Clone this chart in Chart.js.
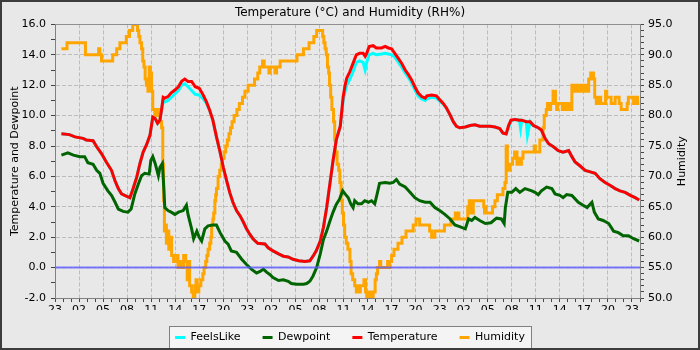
<!DOCTYPE html>
<html>
<head>
<meta charset="utf-8">
<script src="https://cdn.jsdelivr.net/npm/chart.js@4.4.1/dist/chart.umd.min.js"></script>
<style>
  html, body { margin: 0; padding: 0; background: #e8e8e8; }
</style>
</head>
<body>
<canvas id="grafico" width="700" height="350"></canvas>
<script>
// Eje X en horas desde las 23:00 del primer día
const etiquetasX = ["23","02","05","08","11","14","17","20","23","02","05","08","11","14","17","20","23","02","05","08","11","14","17","20","23"];

// Temperatura y sensación térmica (mismas horas)
const horasTemp = [0.8,1.8,2.5,3.5,3.9,4.75,5.2,5.8,6.4,7.05,7.5,7.9,8.3,8.9,9.35,9.75,10.2,10.6,11.0,11.4,11.85,12.2,12.5,12.8,13.1,13.3,
  13.5,13.7,14.1,14.5,15.0,15.4,15.8,16.2,16.6,17.05,17.5,18.0,18.5,18.9,19.3,
  19.7,20.15,20.6,21.0,21.4,21.8,22.2,22.65,23.1,23.5,23.9,24.3,24.7,25.3,26.2,26.6,27.2,27.9,28.5,29.1,29.7,30.4,31.2,31.8,32.2,32.6,33.1,33.5,33.9,34.3,34.7,35.1,35.6,
  35.96,36.2,36.4,36.8,37.2,37.6,38.0,38.45,38.7,38.9,39.2,39.7,40.1,40.75,41.2,41.6,42.0,42.4,42.8,43.25,43.7,44.1,44.5,44.9,45.3,45.75,46.2,46.4,47.0,47.6,48.0,48.45,
  48.85,49.3,49.7,50.1,50.5,51.2,51.8,52.4,53.0,54.3,54.9,55.5,55.9,56.3,
  56.6,56.9,57.4,57.95,58.1,58.25,58.8,58.95,59.3,
  59.7,60.3,60.7,61.15,61.6,62.2,62.8,63.4,64.1,64.5,64.9,65.5,66.15,66.8,67.4,68.0,68.65,69.3,69.9,70.5,71.15,71.8,72.4,72.9];

const temperatura = [8.8,8.75,8.6,8.5,8.4,8.35,7.95,7.5,6.95,6.4,5.7,5.2,4.85,4.7,4.6,5.2,5.95,6.85,7.6,8.05,8.7,9.9,9.8,9.5,9.7,10.4,
  11.2,11.15,11.25,11.5,11.7,11.9,12.25,12.4,12.25,12.25,11.9,11.8,11.35,10.9,10.35,
  9.7,8.6,7.6,6.6,5.75,4.95,4.3,3.75,3.4,3.0,2.55,2.2,1.9,1.6,1.55,1.3,1.1,0.9,0.75,0.7,0.55,0.45,0.4,0.45,0.75,1.1,1.75,2.65,3.95,5.5,7.05,8.4,9.3,
  11.25,12.0,12.45,12.9,13.45,14.0,14.1,14.1,13.9,14.1,14.55,14.6,14.45,14.45,14.55,14.45,14.4,14.1,13.8,13.45,13.0,12.7,12.35,11.9,11.5,11.25,11.15,11.3,11.35,11.3,11.05,10.8,
  10.5,10.05,9.6,9.3,9.2,9.25,9.35,9.4,9.3,9.3,9.25,9.15,8.85,8.8,
  9.35,9.7,9.75,9.7,9.7,9.7,9.6,9.6,9.6,
  9.35,9.2,9.05,8.5,8.15,7.95,7.7,7.6,7.7,7.3,6.95,6.7,6.4,6.3,6.2,5.85,5.6,5.4,5.2,5.05,4.95,4.75,4.6,4.45];

const sensacion = [8.8,8.75,8.6,8.5,8.4,8.35,7.95,7.5,6.95,6.4,5.7,5.2,4.85,4.7,4.6,5.2,5.95,6.85,7.6,8.05,8.7,9.9,9.8,9.5,9.7,10.4,
  11.0,10.9,11.0,11.2,11.45,11.65,12.0,12.1,11.9,11.65,11.4,11.35,11.1,10.8,10.35,
  9.7,8.6,7.6,6.6,5.75,4.95,4.3,3.75,3.4,3.0,2.55,2.2,1.9,1.6,1.55,1.3,1.1,0.9,0.75,0.7,0.55,0.45,0.4,0.45,0.75,1.1,1.75,2.65,3.95,5.5,7.05,8.4,9.3,
  11.0,11.6,12.0,12.4,12.9,13.5,13.6,13.5,13.0,13.5,14.0,14.1,14.0,14.05,14.1,14.05,14.0,13.85,13.55,13.2,12.8,12.5,12.15,11.7,11.3,11.1,11.0,11.1,11.2,11.15,10.95,10.75,
  10.5,10.05,9.6,9.3,9.2,9.25,9.35,9.4,9.3,9.3,9.25,9.15,8.85,8.8,
  9.2,9.65,9.75,9.7,9.15,9.7,9.6,8.7,9.6,
  9.35,9.2,9.05,8.5,8.15,7.95,7.7,7.6,7.7,7.3,6.95,6.7,6.4,6.3,6.2,5.85,5.6,5.4,5.2,5.05,4.95,4.75,4.6,4.45];

// Punto de rocío
const horasRocio = [0.8,1.6,2.3,3.1,3.7,4.1,4.75,5.2,5.6,6.0,6.6,7.05,7.5,7.9,8.5,9.1,9.5,9.96,10.4,10.8,11.2,11.75,11.96,12.2,12.5,12.9,13.1,13.4,13.6,13.7,
  14.1,14.5,14.96,15.4,16.0,16.4,16.6,17.05,17.3,17.7,18.0,18.3,18.7,19.1,19.7,20.15,20.6,21.2,21.6,22.0,22.65,23.3,23.9,24.5,25.15,25.6,26.0,26.4,26.8,27.2,
  27.9,28.5,29.1,29.5,30.15,31.0,31.4,31.8,32.2,32.65,33.1,33.5,33.9,34.3,34.7,35.1,35.5,35.9,36.2,36.6,36.9,37.2,37.4,37.8,38.25,38.65,39.1,39.5,39.9,40.2,
  40.5,41.2,41.8,42.2,42.6,43.0,43.7,44.3,44.9,45.5,46.2,46.8,47.4,48.0,48.65,49.3,49.9,50.5,51.2,51.6,52.0,52.4,53.0,53.7,54.4,55.1,55.7,56.05,56.2,56.5,
  57.0,57.5,58.0,58.65,59.5,59.9,60.3,60.7,61.35,62.0,62.4,63.0,63.4,63.85,64.5,65.3,65.9,66.4,67.0,67.3,67.8,68.4,69.1,69.7,70.3,70.9,71.55,72.2,72.9];
const rocio = [7.4,7.55,7.4,7.3,7.3,6.9,6.8,6.4,6.2,5.55,5.05,4.75,4.3,3.85,3.7,3.65,3.85,4.85,5.5,6.05,6.2,6.15,7.05,7.3,6.85,6.05,6.6,6.85,5.05,3.95,
  3.75,3.65,3.5,3.65,3.75,4.1,3.5,2.55,1.9,2.4,2.0,1.75,2.55,2.75,2.8,2.8,2.3,1.75,1.55,1.1,1.0,0.55,0.2,-0.1,-0.35,-0.25,-0.1,-0.3,-0.45,-0.65,
  -0.85,-0.8,-0.9,-1.05,-1.1,-1.1,-1.05,-0.9,-0.55,0.0,0.9,1.85,2.4,3.05,3.65,4.15,4.5,5.05,4.85,4.6,4.2,3.95,4.4,4.2,4.2,4.4,4.3,4.4,4.2,4.85,
  5.55,5.6,5.55,5.6,5.8,5.5,5.3,4.95,4.6,4.4,4.3,4.3,3.95,3.75,3.5,3.2,2.8,2.7,2.55,3.2,3.1,3.3,3.1,2.9,2.95,3.25,3.2,2.9,3.95,4.95,
  4.95,5.2,4.95,5.2,5.05,4.95,4.8,5.05,5.3,5.2,4.85,4.75,4.6,4.8,4.75,4.3,4.1,3.95,4.3,3.65,3.2,3.1,2.9,2.4,2.3,2.1,2.1,1.9,1.75];

// Humedad relativa (cada valor rige desde su hora)
const horasHum = [0.8,1.5,3.8,5.45,5.6,5.8,7.2,7.7,8.1,8.9,9.3,9.7,10.3,10.45,10.6,10.8,10.95,11.1,11.25,11.4,11.6,11.75,11.9,12.05,12.2,12.45,12.7,12.9,13.1,13.3,
  13.45,13.55,13.65,13.8,13.9,14.05,14.2,14.4,14.55,14.8,15.2,15.35,15.7,15.9,16.05,16.3,16.5,16.6,16.8,17.05,17.25,17.45,17.6,17.75,17.95,18.2,18.45,18.6,18.8,18.95,
  19.1,19.3,19.45,19.55,19.7,19.8,19.95,20.05,20.15,20.35,20.55,20.75,20.9,21.1,21.3,21.5,21.7,21.9,22.1,22.35,22.7,23.0,23.4,23.7,24.1,24.9,25.3,25.55,25.9,26.1,
  26.7,26.85,27.45,27.65,28.1,30.2,31.0,31.7,32.3,32.65,33.4,33.55,33.7,33.85,34.0,34.15,34.25,34.4,34.55,34.75,34.9,35.0,35.2,35.4,35.55,35.7,35.85,36.0,36.15,36.35,
  36.55,36.8,36.95,37.15,37.4,37.6,37.75,37.85,38.1,38.55,38.75,38.9,39.2,39.35,39.7,39.95,40.1,40.25,40.5,40.65,41.5,41.65,41.75,42.0,42.3,42.8,43.3,43.8,44.7,45.05,
  45.5,46.75,47.0,47.4,48.6,49.4,49.95,50.1,50.25,50.4,51.5,51.7,51.85,52.2,53.5,53.6,53.7,53.8,54.6,54.9,55.2,55.9,56.15,56.3,56.45,56.6,56.8,57.1,57.35,57.45,
  57.55,57.65,57.8,58.0,58.2,58.4,59.8,59.95,60.5,60.9,61.05,61.3,61.45,61.55,61.65,61.75,61.85,62.15,62.45,62.6,62.7,63.3,63.45,63.6,63.75,63.9,64.05,64.2,64.5,64.65,
  64.8,64.95,65.1,65.3,65.5,65.7,65.85,66.0,66.2,66.4,66.6,66.85,67.2,67.35,67.55,67.9,68.1,68.7,68.85,69.4,69.9,70.4,70.65,71.4,71.55,72.0,72.2,72.5,72.7,72.9];
const humedad = [91,92,90,91,90,89,90,91,92,93,94,95,94,93,92,91,89,88,86,85,84,88,87,84,81,80,81,80,79,78,
  72,66,61,62,59,61,58,60,57,56,57,55,56,55,57,56,53,56,52,51,50,52,53,51,52,53,54,55,56,57,
  58,59,60,62,63,64,66,67,68,70,71,72,73,74,75,76,77,78,79,80,81,82,83,84,85,86,87,88,89,88,
  87,88,87,88,89,90,91,92,93,94,93,92,91,90,88,87,85,83,81,79,76,74,72,71,69,66,64,62,60,59,
  58,56,54,53,52,51,52,51,52,53,51,50,51,50,51,53,54,55,56,55,56,55,56,57,58,59,60,61,62,63,
  62,61,60,61,62,63,64,63,64,63,65,66,64,66,65,64,65,64,65,66,67,68,69,75,72,71,72,73,74,73,
  74,72,73,72,73,74,75,74,76,78,80,81,82,81,82,81,82,84,82,81,82,81,82,81,82,81,82,81,85,84,
  85,84,85,84,85,84,85,84,85,84,86,87,86,83,82,83,82,84,83,82,83,82,81,82,83,83,82,83,82,82];

const fuente = { family: "DejaVu Sans", size: 11 };
const puntos = (horas, valores) => horas.map((h, i) => ({ x: h, y: valores[i] }));

// Fondo, caja de la leyenda, línea de 0 °C, título derecho y marco
const marco = {
  id: "marco",
  beforeDraw(chart) {
    const { ctx, width, height, legend } = chart;
    ctx.save();
    ctx.fillStyle = "#e8e8e8";
    ctx.fillRect(0, 0, width, height);
    const cajas = legend ? legend.legendHitBoxes : [];
    if (cajas.length) {
      const izq = Math.min(...cajas.map(b => b.left)) - 6;
      const der = Math.max(...cajas.map(b => b.left + b.width)) + 6;
      const arriba = Math.min(...cajas.map(b => b.top)) - 6;
      const abajo = Math.max(...cajas.map(b => b.top + b.height)) + 6;
      ctx.fillStyle = "#f4f4f4";
      ctx.fillRect(izq, arriba, der - izq, abajo - arriba);
      ctx.strokeStyle = "#808080";
      ctx.lineWidth = 1;
      ctx.strokeRect(Math.round(izq) + 0.5, Math.round(arriba) + 0.5, Math.round(der - izq), Math.round(abajo - arriba));
    }
    ctx.restore();
  },
  afterDatasetsDraw(chart) {
    const { ctx, chartArea, scales } = chart;
    const y0 = scales.y.getPixelForValue(0);
    ctx.save();
    ctx.strokeStyle = "rgba(90, 90, 255, 0.8)";
    ctx.lineWidth = 2;
    ctx.beginPath();
    ctx.moveTo(chartArea.left, y0);
    ctx.lineTo(chartArea.right, y0);
    ctx.stroke();
    ctx.restore();
  },
  afterDraw(chart) {
    const { ctx, width, height, chartArea } = chart;
    ctx.save();
    ctx.strokeStyle = "#909090";
    ctx.lineWidth = 1;
    ctx.beginPath();
    ctx.moveTo(chartArea.left, Math.round(chartArea.top) + 0.5);
    ctx.lineTo(chartArea.right, Math.round(chartArea.top) + 0.5);
    ctx.stroke();
    // título del eje derecho, girado como el izquierdo
    ctx.translate(width - 18, (chartArea.top + chartArea.bottom) / 2);
    ctx.rotate(-Math.PI / 2);
    ctx.fillStyle = "#000";
    ctx.font = "11px 'DejaVu Sans'";
    ctx.textAlign = "center";
    ctx.textBaseline = "middle";
    ctx.fillText("Humidity", 0, 0);
    ctx.setTransform(1, 0, 0, 1, 0, 0);
    ctx.strokeStyle = "#3c3c3c";
    ctx.lineWidth = 2;
    ctx.strokeRect(1, 1, width - 2, height - 2);
    ctx.restore();
  }
};

new Chart(document.getElementById("grafico"), {
  type: "line",
  data: {
    datasets: [
      { label: "FeelsLike", data: puntos(horasTemp, sensacion), borderColor: "#00ffff", backgroundColor: "#00ffff", yAxisID: "y", order: 2 },
      { label: "Dewpoint", data: puntos(horasRocio, rocio), borderColor: "#006400", backgroundColor: "#006400", yAxisID: "y", order: 1 },
      { label: "Temperature", data: puntos(horasTemp, temperatura), borderColor: "#ff0000", backgroundColor: "#ff0000", yAxisID: "y", order: 0 },
      { label: "Humidity", data: puntos(horasHum, humedad), borderColor: "#ffa500", backgroundColor: "#ffa500", yAxisID: "y1", stepped: true, order: 3 }
    ]
  },
  options: {
    responsive: false,
    animation: false,
    elements: {
      point: { radius: 0, hoverRadius: 0 },
      line: { borderWidth: 3, tension: 0 }
    },
    layout: { padding: { left: 0, right: 0, top: 0, bottom: -3 } },
    plugins: {
      title: {
        display: true,
        text: "Temperature (°C) and Humidity (RH%)",
        color: "#000",
        font: { family: "DejaVu Sans", size: 12, weight: "normal" },
        padding: { top: 6, bottom: 4 }
      },
      legend: {
        position: "bottom",
        labels: {
          font: fuente,
          color: "#000",
          boxWidth: 10,
          boxHeight: 3,
          padding: 22,
          generateLabels: chart => chart.data.datasets.map((d, i) => ({
            text: d.label, fillStyle: d.borderColor, strokeStyle: d.borderColor,
            lineWidth: 0, datasetIndex: i, hidden: false, fontColor: "#000"
          }))
        }
      },
      tooltip: { enabled: false }
    },
    scales: {
      x: {
        type: "linear",
        min: 0,
        max: 73,
        ticks: {
          stepSize: 1, autoSkip: false, maxRotation: 0, font: fuente, color: "#000", padding: 2,
          callback: v => v % 3 === 0 ? etiquetasX[v / 3] : ""
        },
        grid: {
          color: c => (c.tick && c.tick.value % 3 === 0) ? "#bcbcbc" : "rgba(0,0,0,0)",
          tickColor: "#444", tickLength: 4
        },
        border: { color: "#808080", dash: [4, 2] },
        afterFit: s => { s.height = 12; }
      },
      y: {
        position: "left",
        min: -2,
        max: 16,
        ticks: {
          stepSize: 1, autoSkip: false, font: fuente, color: "#000", padding: 5,
          callback: v => v % 2 === 0 ? v.toFixed(1) : ""
        },
        grid: {
          color: c => (c.tick && c.tick.value % 2 === 0) ? "#bcbcbc" : "rgba(0,0,0,0)",
          tickColor: "#444", tickLength: 4
        },
        border: { color: "#808080", dash: [4, 2] },
        title: { display: true, text: "Temperature and Dewpoint", font: fuente, color: "#000", padding: { top: 9, bottom: 0 } },
        afterFit: s => { s.width = 55; }
      },
      y1: {
        position: "right",
        min: 50,
        max: 95,
        ticks: {
          stepSize: 1, autoSkip: false, font: fuente, color: "#000", padding: 4,
          callback: v => v % 5 === 0 ? v.toFixed(1) : ""
        },
        grid: { drawOnChartArea: false, tickColor: "#444", tickLength: 4 },
        border: { color: "#808080" },
        afterFit: s => { s.width = 60; }
      }
    }
  },
  plugins: [marco]
});
</script>
</body>
</html>
